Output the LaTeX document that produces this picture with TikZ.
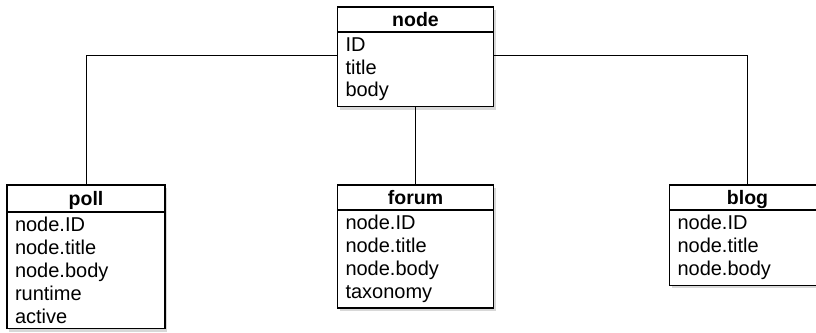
\documentclass[tikz,border=0pt]{standalone}
\usepackage{fontspec}
\setmainfont{Liberation Sans}
\usepackage{tikz}
\usetikzlibrary{positioning,shadows}

\begin{document}
\begin{tikzpicture}
		[x=1pt,y=-1pt,line cap=round,
		%Styles
		table/.style={draw,line width=1.1pt,fill=white,outer sep=0pt,
			font=\fontsize{20}{22.8}\selectfont,
			drop shadow={opacity=0.3,shadow xshift=2pt,shadow yshift=-3pt}},
		table head/.style={table,font=\fontsize{19.5}{22.8}\selectfont\bfseries,
			minimum width=156pt,minimum height=25pt,text height=13.5pt,text depth=0pt,
			inner sep=0pt,anchor=north},
		table body/.style={table,align=left,text width=140pt,inner xsep=8pt,inner ysep=5.5pt},
		link/.style={line width=0.9pt}
		]
		
		\useasboundingbox (0,0) rectangle (816,332);
		\clip (0,0) rectangle (816,332);
		\fill[white] (0,0) rectangle (816,332);
		
		%The graphic
		\node[table head] (nodehead) at (415.5,7) {node};
		\node[table body, below=0pt of nodehead] (nodebody) {ID\\title\\body};
		
		\node[table head, minimum width=158pt, minimum height=27pt] (pollhead) at (86,185) {poll};
		\node[table body, text width=142pt, below=0pt of pollhead] (pollbody)
			{node.ID\\node.title\\node.body\\runtime\\active};
		
		\node[table head] (forumhead) at (415.5,185) {forum};
		\node[table body, below=0pt of forumhead] (forumbody)
			{node.ID\\node.title\\node.body\\taxonomy};
		
		\node[table head] (bloghead) at (747.5,185) {blog};
		\node[table body, below=0pt of bloghead] (blogbody)
			{node.ID\\node.title\\node.body};
		
		%Links
		\draw[link] (nodebody.south) -- (forumhead.north);
		\draw[link] (pollhead.north) |- ([yshift=-23pt]nodehead.south west);
		\draw[link] (bloghead.north) |- ([yshift=-23pt]nodehead.south east);
	\end{tikzpicture}
\end{document}
